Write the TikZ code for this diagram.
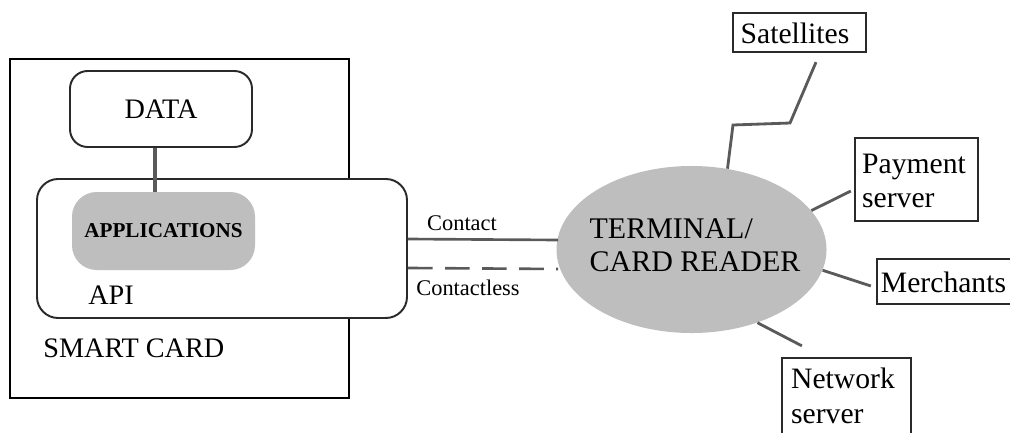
\documentclass[tikz,border=0pt]{standalone}
\usepackage{fontspec}
\setmainfont{Liberation Serif}
\usetikzlibrary{fit,calc,shapes.geometric}
\definecolor{panel}{HTML}{BEBEBE}
\definecolor{wire}{HTML}{5A5A5A}
\definecolor{edge}{HTML}{2A2A2A}
\begin{document}
\begin{tikzpicture}[x=0.567pt,y=-0.567pt,
  frame/.style={draw=black, line width=1.1pt, inner sep=0pt},
  roundbox/.style={draw=edge, line width=1.1pt, inner sep=0pt, fill=white},
  sidebox/.style={draw=edge, line width=1.3pt, inner sep=0pt, fill=white},
  sidetext/.style={align=left, inner sep=0pt, font=\fontsize{16.8}{19.5}\selectfont},
  wireline/.style={draw=wire, line width=1.6pt},
  bigtext/.style={font=\fontsize{16}{19}\selectfont, inner sep=0pt},
  smalltext/.style={font=\fontsize{12.7}{15}\selectfont, inner sep=0pt}]
\useasboundingbox (0,0) rectangle (1010,432);
\clip (0,0) rectangle (1010,432);

% smart card outline and its inner blocks
\node[frame, fit={(10,59) (349,398)}] (card) {};
\node[roundbox, rounded corners=10pt, fit={(70,71) (252,147)}] (data) {};
\node[bigtext] (datalbl) at (data.center) {DATA};
\node[roundbox, rounded corners=12pt, fit={(37,179) (407,318)}] (api) {};
\node[fill=panel, rounded corners=14pt, inner sep=0pt, fit={(72,192) (255,270)}] (apps) {};
\node[inner sep=0pt, font=\bfseries\fontsize{12}{14}\selectfont] (appslbl) at (apps.center) {APPLICATIONS};
\coordinate (linkx) at (155,0);
\draw[wireline, line width=1.8pt] (data.south -| linkx) -- (apps.north -| linkx);
\node[bigtext, anchor=west] (apilbl) at (88,295) {API};
\node[bigtext, anchor=west] (cardlbl) at (43,348) {SMART CARD};

% terminal
\node[ellipse, fill=panel, minimum width=153.1pt, minimum height=94.7pt, inner sep=0pt] (term) at (691.5,249.5) {};
\node[align=left, inner sep=0pt, font=\fontsize{17}{18.7}\selectfont] (termlbl) at (695,245) {TERMINAL/\\CARD READER};

% card to terminal links
\draw[wireline, line width=1.5pt] ($(api.east)+(0,-9.5)$) -- ($(term.west)+(2,-9.5)$);
\draw[wireline, line width=1.5pt, dash pattern=on 14pt off 7pt]
  ($(api.east)+(0,19.5)$) -- ($(term.west)+(2,19.5)$);
\node[smalltext] (contact) at (462,223) {Contact};
\node[smalltext] (contactless) at (468,288) {Contactless};

% outside parties
\node[sidebox, fit={(733,13) (866,52)}] (sat) {};
\node[sidetext] (satlbl) at (795,33) {Satellites};
\node[sidebox, fit={(855,138) (978,221)}] (pay) {};
\node[sidetext] (paylbl) at (914,181) {Payment\\server};
\node[sidebox, fit={(877,259) (1013,304)}] (mer) {};
\node[sidetext] (merlbl) at (943.5,282) {Merchants};
\node[sidebox, fit={(782,358) (911,445)}] (net) {};
\node[sidetext, font=\fontsize{16.8}{20}\selectfont] (netlbl) at (843,396) {Network\\server};

% terminal to parties links
\coordinate (bolt1) at (733,125);
\coordinate (bolt2) at (790,123);
\coordinate (boltend) at ($(sat.south)+(16.5,9)$);
\draw[wireline] (term.66) -- (bolt1) -- (bolt2) -- (boltend);
\draw[wireline] (term.18) -- ($(pay.west)+(-3,11.5)$);
\draw[wireline] (term.-9.7) -- ($(mer.west)+(-5,4.5)$);
\coordinate (netend) at ($(net.north west)+(21,-11)$);
\draw[wireline] (term.-48) -- (netend);
\end{tikzpicture}
\end{document}
